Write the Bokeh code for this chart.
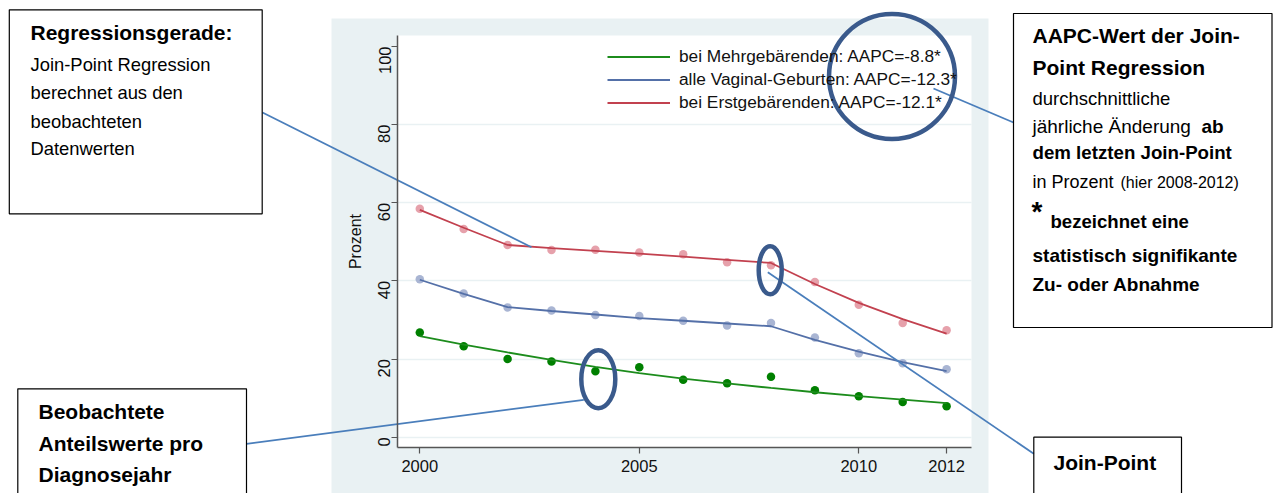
import math
from bokeh.plotting import figure
from bokeh.models import (Range1d, LinearAxis, FixedTicker, Grid, Legend, LegendItem,
                          Label, BoxAnnotation, ColumnDataSource)
from bokeh.embed import file_html
from bokeh.resources import INLINE

# ---------------- data ----------------
years = [2000, 2001, 2002, 2003, 2004, 2005, 2006, 2007, 2008, 2009, 2010, 2011, 2012]
obs_mehr = [26.8, 23.3, 20.0, 19.4, 16.9, 17.9, 14.7, 13.8, 15.5, 12.0, 10.5, 9.0, 7.9]
fit_mehr = [25.9, 23.7, 21.7, 19.8, 18.0, 16.4, 15.0, 13.8, 12.6, 11.5, 10.5, 9.6, 8.7]
obs_alle = [40.4, 36.8, 33.2, 32.4, 31.3, 31.0, 29.8, 28.6, 29.2, 25.5, 21.5, 18.9, 17.4]
fit_alle = [40.3, 36.7, 33.3, 32.3, 31.4, 30.5, 29.8, 29.1, 28.4, 24.9, 21.9, 19.2, 16.9]
obs_erst = [58.5, 53.3, 49.2, 47.9, 48.0, 47.3, 46.8, 44.8, 44.0, 39.7, 33.9, 29.2, 27.4]
fit_erst = [58.2, 53.6, 49.2, 48.4, 47.7, 47.0, 46.2, 45.4, 44.6, 39.2, 34.4, 30.2, 26.5]
x_ticks = [2000, 2005, 2010, 2012]
y_ticks = [0, 20, 40, 60, 80, 100]
grid_ticks = [0, 20, 40, 60, 80]
legend_labels = ["bei Mehrgebärenden: AAPC=-8.8*",
                 "alle Vaginal-Geburten: AAPC=-12.3*",
                 "bei Erstgebärenden: AAPC=-12.1*"]
y_title = "Prozent"

# ---------------- styling / geometry ----------------
FONT = "Liberation Sans"
BG = "#e9f1f3"
GREEN_LINE, GREEN_PT = "#1c8c1c", "#008000"
BLUE_LINE, BLUE_PT = "#5470a8", "#a9b5d3"
RED_LINE, RED_PT = "#c2414f", "#e6a1ab"
CONN = "#4a7ebb"
ELL = "#3a5a8c"
AXIS = "#555555"

W, H = 1273, 493
X0PX, XS = 419.3, 43.9
Y0PX, YS = 436.7, 3.907


def fx(px):
    return 2000 + (px - X0PX) / XS


def fy(py):
    return (Y0PX - py) / YS


p = figure(width=W, height=H,
           x_range=Range1d(fx(0), fx(W)), y_range=Range1d(fy(H), fy(0)),
           x_axis_type=None, y_axis_type=None, toolbar_location=None,
           output_backend="svg", min_border=0, outline_line_color=None,
           background_fill_color="white", border_fill_color="white")

# background panel and plot region
p.add_layout(BoxAnnotation(left=fx(331), right=fx(988), top=fy(18), bottom=fy(520),
                           fill_color=BG, fill_alpha=1, line_color=None, level="image"))
p.add_layout(BoxAnnotation(left=fx(397), right=fx(971), top=fy(35), bottom=fy(447),
                           fill_color="white", fill_alpha=1, line_color=None, level="image"))

# grid
yg = Grid(dimension=1, ticker=FixedTicker(ticks=grid_ticks),
          grid_line_color=BG, grid_line_width=1.6)
try:
    yg.cross_bounds = (fx(397), fx(971))
except Exception:
    pass
p.add_layout(yg, "center")

# axes
xaxis = LinearAxis(ticker=FixedTicker(ticks=x_ticks), fixed_location=fy(447),
                   bounds=(fx(397), fx(971)))
yaxis = LinearAxis(ticker=FixedTicker(ticks=y_ticks), fixed_location=fx(397),
                   bounds=(fy(447), fy(35)), axis_label=y_title)
for ax in (xaxis, yaxis):
    ax.axis_line_color = AXIS
    ax.axis_line_width = 1.5
    ax.major_tick_line_color = AXIS
    ax.major_tick_line_width = 1.2
    ax.major_tick_out = 6
    ax.major_tick_in = 0
    ax.minor_tick_line_color = None
    ax.major_label_text_font = FONT
    ax.major_label_text_font_size = "16.5px"
    ax.major_label_text_color = "#111111"
    ax.major_label_standoff = 7
xaxis.major_label_standoff = 6
yaxis.major_label_orientation = math.pi / 2
yaxis.axis_label_text_font = FONT
yaxis.axis_label_text_font_size = "16px"
yaxis.axis_label_text_font_style = "normal"
yaxis.axis_label_text_color = "#111111"
yaxis.axis_label_standoff = 6
p.add_layout(xaxis, "below")
p.add_layout(yaxis, "left")

# data
src = ColumnDataSource(dict(year=years, obs_mehr=obs_mehr, fit_mehr=fit_mehr,
                            obs_alle=obs_alle, fit_alle=fit_alle,
                            obs_erst=obs_erst, fit_erst=fit_erst))
p.scatter("year", "obs_erst", source=src, size=8.5, fill_color=RED_PT, line_color=None)
p.scatter("year", "obs_alle", source=src, size=8.5, fill_color=BLUE_PT, line_color=None)
p.scatter("year", "obs_mehr", source=src, size=8.5, fill_color=GREEN_PT, line_color=None)
r_erst = p.line("year", "fit_erst", source=src, line_color=RED_LINE, line_width=1.8)
r_alle = p.line("year", "fit_alle", source=src, line_color=BLUE_LINE, line_width=1.8)
r_mehr = p.line("year", "fit_mehr", source=src, line_color=GREEN_LINE, line_width=1.8)

legend = Legend(items=[LegendItem(label=legend_labels[0], renderers=[r_mehr]),
                       LegendItem(label=legend_labels[1], renderers=[r_alle]),
                       LegendItem(label=legend_labels[2], renderers=[r_erst])],
                location=(607, H - 114.2), orientation="vertical",
                glyph_width=63, glyph_height=23, label_height=23, spacing=0,
                padding=0, margin=0, label_standoff=9,
                label_text_font=FONT, label_text_font_size="17.3px",
                label_text_color="#111111",
                border_line_color=None, background_fill_alpha=0)
p.add_layout(legend, "center")

# ---------------- annotations ----------------
def box(l, t, r, b):
    p.add_layout(BoxAnnotation(left=fx(l), right=fx(r), top=fy(t), bottom=fy(b),
                               fill_alpha=0, line_color="black", line_alpha=1,
                               line_width=1.2))


def text(s, px, py, size, bold=False):
    p.add_layout(Label(x=fx(px), y=fy(py), text=s, text_font=FONT,
                       text_font_size=f"{size}px",
                       text_font_style="bold" if bold else "normal",
                       text_color="black", text_baseline="middle", text_align="left"))


# connectors
p.segment(x0=[fx(262), fx(246), fx(767.3), fx(933)],
          y0=[fy(112), fy(443.3), fy(271.7), fy(88)],
          x1=[fx(531), fx(583.3), fx(1033.3), fx(1013)],
          y1=[fy(246.7), fy(399.3), fy(453.3), fy(122)],
          line_color=CONN, line_width=1.8)

# highlight ellipses
p.ellipse(x=[fx(891.5), fx(597.8), fx(769.7)], y=[fy(76), fy(378.7), fy(269.7)],
          width=[126, 34, 23], height=[125, 58, 48],
          width_units="screen", height_units="screen",
          fill_color=None, line_color=ELL, line_width=4.5)

# boxes
box(8.8, 9.3, 261.7, 213.3)
box(17.3, 388.3, 246, 520)
box(1013, 13, 1271.5, 327)
box(1033.3, 436.7, 1181, 520)

# left-top box text
text("Regressionsgerade:", 30, 32, 21, True)
text("Join-Point Regression", 30, 63.5, 18.4)
text("berechnet aus den", 30, 92, 18.4)
text("beobachteten", 30, 120.5, 18.4)
text("Datenwerten", 30, 148, 18.4)

# bottom-left box
text("Beobachtete", 38, 411, 21, True)
text("Anteilswerte pro", 38, 443, 21, True)
text("Diagnosejahr", 38, 474, 21, True)

# right box
text("AAPC-Wert der Join-", 1032, 35, 21, True)
text("Point Regression", 1032, 67, 21, True)
text("durchschnittliche", 1032, 98, 18.5)
text("jährliche Änderung", 1032, 126, 19)
text("ab", 1201, 126, 19, True)
text("dem letzten Join-Point", 1032, 152, 18.7, True)
text("in Prozent", 1032, 181, 18)
text("(hier 2008-2012)", 1120, 182, 16)
text("*", 1031, 211, 28, True)
text("bezeichnet eine", 1050, 221, 18.6, True)
text("statistisch signifikante", 1032, 255, 19, True)
text("Zu- oder Abnahme", 1032, 284, 19, True)

# join-point box
text("Join-Point", 1053, 462, 21, True)

open("out.html", "w").write(file_html(p, INLINE))
